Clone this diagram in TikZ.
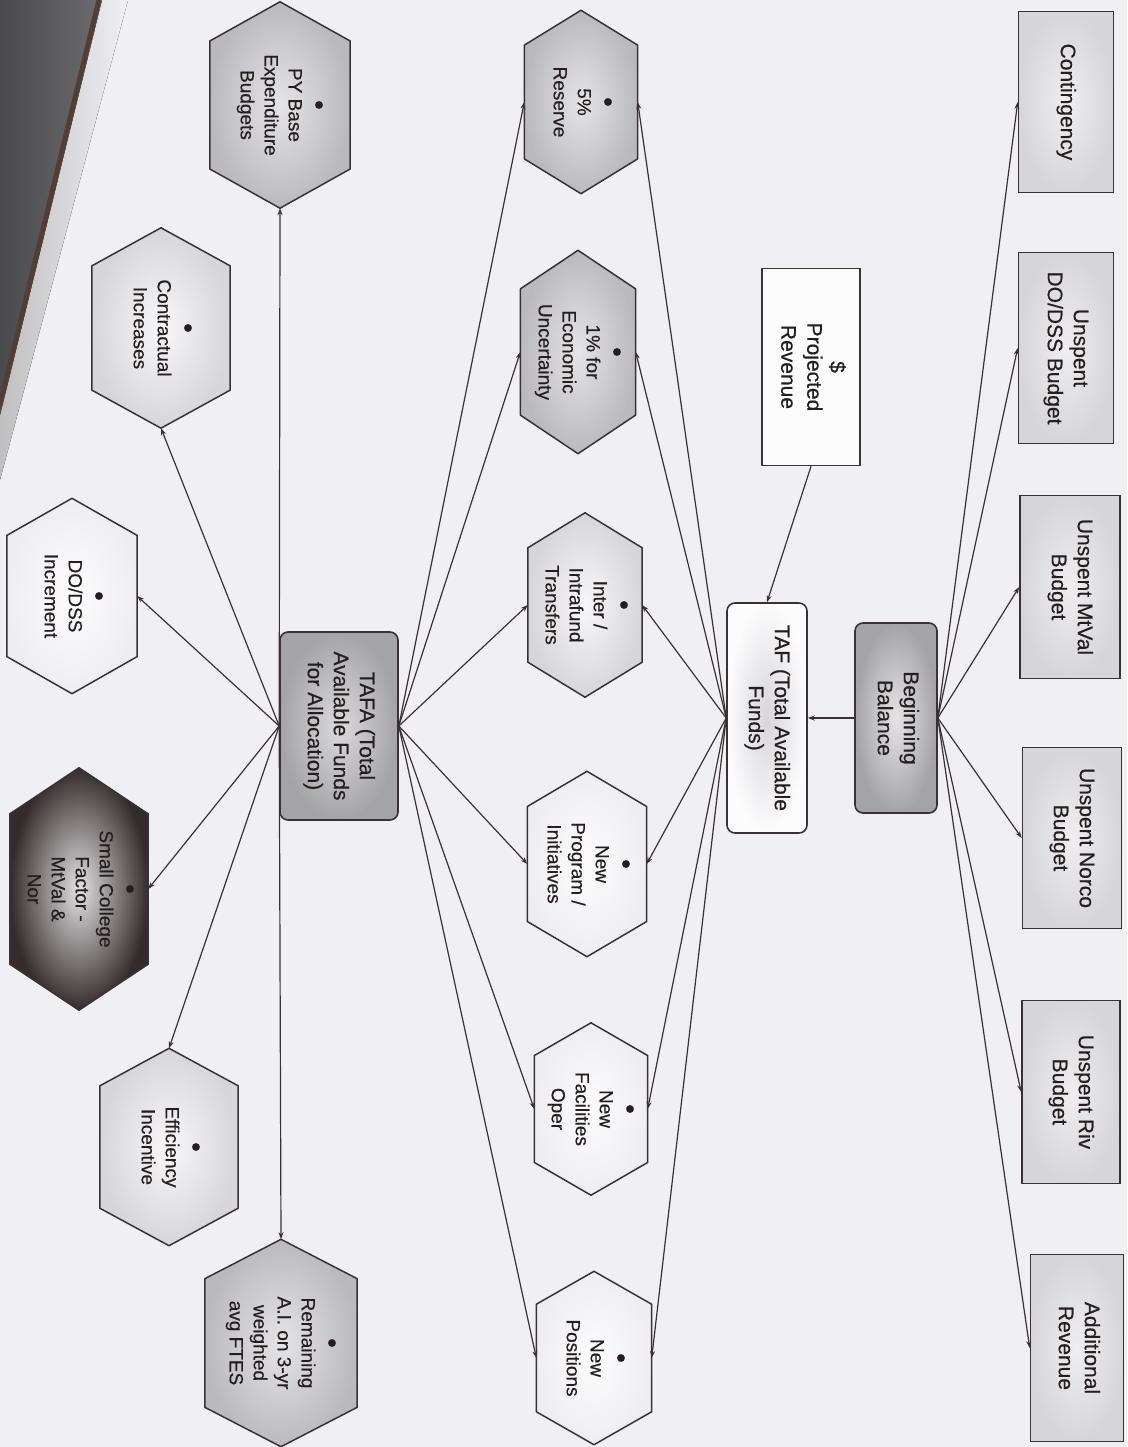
\documentclass[tikz,border=0pt]{standalone}
\usepackage{fontspec}
\usepackage{graphicx}
\setmainfont{Liberation Sans}[FakeBold=0.5]
\usetikzlibrary{calc,arrows.meta,backgrounds}
\definecolor{bgc}{RGB}{239,239,244}
\definecolor{linec}{RGB}{58,50,50}
\definecolor{txtc}{RGB}{38,30,30}
\definecolor{gmidO}{RGB}{186,186,190}
\definecolor{gmidI}{RGB}{228,228,231}
\definecolor{glitO}{RGB}{214,214,218}
\definecolor{glitI}{RGB}{247,247,249}
\definecolor{gwhtO}{RGB}{238,238,242}
\definecolor{gwhtI}{RGB}{252,252,253}
\definecolor{gdrkO}{RGB}{52,44,44}
\definecolor{gdrkI}{RGB}{228,225,227}
\definecolor{rectO}{RGB}{214,214,218}
\definecolor{rectI}{RGB}{238,238,240}
\definecolor{tafaO}{RGB}{164,164,168}
\definecolor{tafaI}{RGB}{218,218,221}
\definecolor{bandL}{RGB}{74,74,76}
\definecolor{bandR}{RGB}{108,106,108}
\definecolor{bandedge}{RGB}{82,62,52}
\newcommand{\rt}[1]{\rotatebox{-90}{\begin{tabular}{@{}c@{}}#1\end{tabular}}}
\newcommand{\bul}{{\fontsize{28}{20}\selectfont\textbullet}}
\begin{document}
\begin{tikzpicture}[x=1pt,y=-1pt,
  hexn/.style={rectangle, draw=none, inner sep=0pt, text=txtc, font=\fontsize{19}{24}\selectfont},
  hexline/.style={draw=linec, line width=1.5pt, line join=round},
  boxn/.style={rectangle, draw=linec, line width=1.6pt, inner sep=0pt, text=txtc, font=\fontsize{21}{26}\selectfont},
  rboxn/.style={boxn, rounded corners=8pt},
  conn/.style={draw=linec, line width=1.2pt, -{Stealth[length=7pt,width=5pt]}}
]
\useasboundingbox (0,0) rectangle (1127,1447);

% ---------- left column hexagons ----------
\node[hexn, minimum width=140pt, minimum height=206pt] (pyb) at (280,105) {\rt{\bul\\[-3pt] PY Base\\ Expenditure\\ Budgets}};
\node[hexn, minimum width=138pt, minimum height=200pt] (con) at (161,328) {\rt{\bul\\[-3pt] Contractual\\ Increases}};
\node[hexn, minimum width=130pt, minimum height=195pt] (dod) at (72,596) {\rt{\bul\\[-3pt] DO/DSS\\ Increment}};
\node[hexn, minimum width=138pt, minimum height=242pt] (smc) at (79,889) {\rt{\bul\\[-3pt] Small College\\ Factor -\\ MtVal \&\\ Nor}};
\node[hexn, minimum width=138pt, minimum height=197pt] (eff) at (169,1147) {\rt{\bul\\[-3pt] Efficiency\\ Incentive}};
\node[hexn, minimum width=152pt, minimum height=207pt] (rem) at (281,1343) {\rt{\bul\\[-3pt] Remaining\\ A.I. on 3-yr\\ weighted\\ avg FTES}};

% ---------- middle column hexagons ----------
\node[hexn, minimum width=113pt, minimum height=183pt] (res) at (581,102) {\rt{\bul\\[-3pt] 5\%\\ Reserve}};
\node[hexn, minimum width=115pt, minimum height=203pt] (unc) at (578,352) {\rt{\bul\\[-3pt] 1\% for\\ Economic\\ Uncertainty}};
\node[hexn, minimum width=114pt, minimum height=184pt] (itf) at (585,605) {\rt{\bul\\[-3pt] Inter /\\ Intrafund\\ Transfers}};
\node[hexn, minimum width=119pt, minimum height=185pt] (npi) at (587,864) {\rt{\bul\\[-3pt] New\\ Program /\\ Initiatives}};
\node[hexn, minimum width=113pt, minimum height=172pt] (nfo) at (591,1109) {\rt{\bul\\[-3pt] New\\ Facilities\\ Oper}};
\node[hexn, minimum width=115pt, minimum height=173pt] (npo) at (594,1358) {\rt{\bul\\[-3pt] New\\ Positions}};

% ---------- boxes ----------
\node[rboxn, minimum width=118pt, minimum height=188pt, inner color=tafaI, outer color=tafaO] (tafa) at (339,726) {\rt{TAFA (Total\\ Available Funds\\ for Allocation)}};
\node[rboxn, minimum width=80pt, minimum height=230pt, inner color=rectO, outer color=gwhtI] (taf) at (767,718) {\rt{TAF (Total Available\\ Funds)}};
\node[rboxn, minimum width=82pt, minimum height=190pt, inner color=gmidI, outer color=tafaO] (bb) at (896,718) {\rt{Beginning\\ Balance}};
\node[boxn, minimum width=98pt, minimum height=197pt, fill=gwhtI] (prj) at (811,367) {\rt{\$\\[-3pt] Projected\\ Revenue}};

\node[boxn, minimum width=95pt, minimum height=181pt, inner color=rectI, outer color=rectO] (cnt) at (1066,102) {\rt{Contingency}};
\node[boxn, minimum width=95pt, minimum height=191pt, inner color=rectI, outer color=rectO] (udd) at (1066,348) {\rt{Unspent\\ DO/DSS Budget}};
\node[boxn, minimum width=100pt, minimum height=183pt, inner color=rectI, outer color=rectO] (umv) at (1070,587) {\rt{Unspent MtVal\\ Budget}};
\node[boxn, minimum width=99pt, minimum height=181pt, inner color=rectI, outer color=rectO] (unr) at (1072,838) {\rt{Unspent Norco\\ Budget}};
\node[boxn, minimum width=98pt, minimum height=183pt, inner color=rectI, outer color=rectO] (uri) at (1071,1092) {\rt{Unspent Riv\\ Budget}};
\node[boxn, minimum width=93pt, minimum height=187pt, inner color=rectI, outer color=rectO] (adr) at (1077,1348) {\rt{Additional\\ Revenue}};

% ---------- background: paper, dark band, hexagon outlines ----------
\begin{scope}[on background layer]
  \fill[bgc] (0,0) rectangle (1127,1447);
  \fill[left color=black!25, right color=bgc] (0,0) -- (128,0) -- (0,480) -- cycle;
  \fill[left color=bandL, right color=bandR] (0,0) -- (102,0) -- (0,415) -- cycle;
  \draw[bandedge, line width=5pt] (99,0) -- (0,405);
  \foreach \n/\ic/\oc in {pyb/gmidI/gmidO, con/glitI/glitO, dod/gwhtI/gwhtO,
      smc/gdrkI/gdrkO, eff/glitI/glitO, rem/gmidI/gmidO,
      res/gmidI/gmidO, unc/gmidI/gmidO, itf/glitI/glitO,
      npi/gwhtI/gwhtO, nfo/gwhtI/gwhtO, npo/gwhtI/gwhtO}{
    \draw[hexline, inner color=\ic, outer color=\oc]
      (\n.north)
      -- ($(\n.north east)!0.19!(\n.south east)$)
      -- ($(\n.south east)!0.19!(\n.north east)$)
      -- (\n.south)
      -- ($(\n.south west)!0.19!(\n.north west)$)
      -- ($(\n.north west)!0.19!(\n.south west)$)
      -- cycle;
  }
\end{scope}

% ---------- connectors ----------
\draw[conn] (tafa.west) -- (pyb.south);
\draw[conn] (tafa.west) -- (con.south);
\draw[conn] (tafa.west) -- (dod.east);
\draw[conn] (tafa.west) -- (smc.east);
\draw[conn] (tafa.west) -- (eff.north);
\draw[conn] (tafa.west) -- (rem.north);

\foreach \h in {res,unc,itf,npi,nfo,npo}{
  \draw[conn] (tafa.east) -- (\h.west);
  \draw[conn] (taf.west) -- (\h.east);
}

\draw[conn] (prj.south) -- (taf.north);
\draw[conn] (bb.west) -- (taf.east);

\foreach \r in {cnt,udd,umv,unr,uri,adr}{
  \draw[conn] (bb.east) -- (\r.west);
}
\end{tikzpicture}
\end{document}
